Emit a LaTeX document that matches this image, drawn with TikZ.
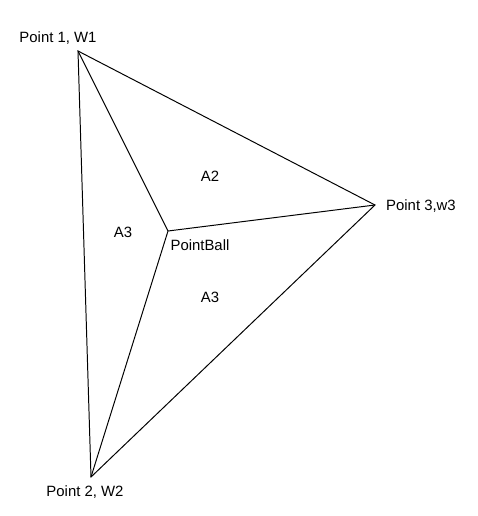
\documentclass[tikz,border=0pt]{standalone}
\usepackage{fontspec}
\setmainfont{Liberation Sans}

\begin{document}
\begin{tikzpicture}[x=0.025cm,y=-0.025cm,font=\fontsize{10.6}{12}\selectfont]
\useasboundingbox (0,0) rectangle (478,516);
\coordinate (p1) at (78,51);
\coordinate (p2) at (91,477);
\coordinate (p3) at (375,205);
\coordinate (ball) at (168,231);

\draw[line width=0.7pt] (p1) -- (p2) -- (p3) -- cycle;
\draw[line width=0.7pt] (p1) -- (ball);
\draw[line width=0.7pt] (p2) -- (ball);
\draw[line width=0.7pt] (p3) -- (ball);

    \node[] (l1) at (58,38) {Point 1, W1};
    \node[] (l2) at (85,492) {Point 2, W2};
    \node[] (l3) at (421,206) {Point 3,w3};
    \node[] (lb) at (200,245) {PointBall};

    \node[] (a2) at (210,176) {A2};
    \node[] (a3l) at (123,232) {A3};
    \node[] (a3r) at (210,297) {A3};
\end{tikzpicture}
\end{document}
